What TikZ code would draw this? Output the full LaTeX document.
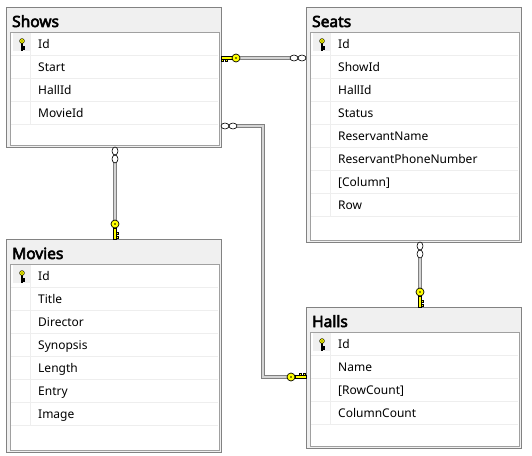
\documentclass[tikz,border=0pt]{standalone}
\usepackage{fontspec}
\setmainfont{Noto Sans}
\newfontfamily\tabtitlefont{Noto Sans}[FakeBold=3.5]
\usetikzlibrary{positioning}

\definecolor{tabborder}{HTML}{828282}
\definecolor{tabhead}{HTML}{F0F0F0}
\definecolor{tabinner}{HTML}{A0A0A0}
\definecolor{tabsep}{HTML}{EEEEEE}
\definecolor{keyyellow}{HTML}{FFFF00}
\definecolor{relouter}{HTML}{808080}
\definecolor{relinner}{HTML}{D4D4D4}

\tikzset{
	tabframe/.style={draw=tabborder, fill=tabhead, line width=1pt, inner sep=0pt, minimum width=215pt, anchor=north west},
	tabtitle/.style={anchor=base west, inner sep=0pt, font=\tabtitlefont\fontsize{15.5}{18}\selectfont},
	rowtext/.style={anchor=base west, inner sep=0pt, font=\fontsize{12}{14}\selectfont},
	rowsep/.style={draw=tabsep, line width=1pt},
	relline/.style={draw=relouter, line width=1pt, double=relinner, double distance=2pt},
	pics/pkkey/.style={code={
		\filldraw[fill=keyyellow, draw=black] (0,-1.2) rectangle (11,1.2);
		\filldraw[fill=keyyellow, draw=black] (0.8,1.2) rectangle (2.8,3.4) (4.2,1.2) rectangle (6.2,3.4);
		\filldraw[fill=keyyellow, draw=black] (15,0) circle (4);
		\fill[black] (15,0) circle (0.9);
	}},
	pics/fkinf/.style={code={
		\filldraw[fill=white, draw=black] (4,0) circle [x radius=4, y radius=3] (12,0) circle [x radius=4, y radius=3];
	}}
}

% #1 name, #2 x, #3 y, #4 title, #5 height, #6 columns
\newcommand{\dbtable}[6]{%
	\node[tabframe, minimum height=#5] (#1) at (#2,#3) {};
	\node[tabtitle] (#1-title) at ({#2+6},{#3+20}) {#4};
	\filldraw[fill=white, draw=tabinner] ({#2+4},{#3+25}) rectangle ({#2+213},{#3+#5-2});
	\fill[tabhead] ({#2+7},{#3+26}) rectangle ({#2+24},{#3+44});
	\foreach \col [count=\i] in {#6} {
		\node[rowtext] (#1-\i) at ({#2+32},{#3+25+23*\i-7}) {\col};
		\draw[rowsep] ({#2+5},{#3+25+23*\i}) -- ({#2+212},{#3+25+23*\i});
		\draw[rowsep] ({#2+24},{#3+26+23*(\i-1)}) -- ({#2+24},{#3+25+23*\i});
	}
	\pic[rotate=90, scale=0.6, line width=0.5pt] at ({#2+16},{#3+43}) {pkkey};
}

\begin{document}
\begin{tikzpicture}[x=1pt, y=-1pt]
	\useasboundingbox (0,0) rectangle (532,455);
	\fill[white] (0,0) rectangle (532,455);

	\dbtable{shows}{6}{7}{Shows}{140}{Id,Start,HallId,MovieId}
	\dbtable{seats}{306}{7}{Seats}{235}{Id,ShowId,HallId,Status,ReservantName,ReservantPhoneNumber,{[Column]},Row}
	\dbtable{movies}{6}{239}{Movies}{213}{Id,Title,Director,Synopsis,Length,Entry,Image}
	\dbtable{halls}{306}{307}{Halls}{141}{Id,Name,{[RowCount]},ColumnCount}

	% relationship ends
	\coordinate (shows-r1) at (221,58);
	\coordinate (seats-l1) at (306,58);
	\coordinate (shows-b1) at (115,147);
	\coordinate (movies-t1) at (115,239);
	\coordinate (seats-b1) at (420,242);
	\coordinate (halls-t1) at (420,307);
	\coordinate (shows-r2) at (221,126);
	\coordinate (turn) at (263,250);
	\coordinate (halls-l1) at (306,377);

	\draw[relline] (shows-r1) -- (seats-l1);
	\draw[relline] (shows-b1) -- (movies-t1);
	\draw[relline] (seats-b1) -- (halls-t1);
	\draw[relline] (shows-r2) -| (turn) |- (halls-l1);

	\pic[line width=0.7pt] at (shows-r1) {pkkey};
	\pic[rotate=180, line width=0.6pt] at (seats-l1) {fkinf};
	\pic[rotate=-90, line width=0.6pt] at (shows-b1) {fkinf};
	\pic[rotate=90, line width=0.7pt] at (movies-t1) {pkkey};
	\pic[rotate=-90, line width=0.6pt] at (seats-b1) {fkinf};
	\pic[rotate=90, line width=0.7pt] at (halls-t1) {pkkey};
	\pic[line width=0.6pt] at (shows-r2) {fkinf};
	\pic[rotate=180, line width=0.7pt] at (halls-l1) {pkkey};
\end{tikzpicture}
\end{document}
